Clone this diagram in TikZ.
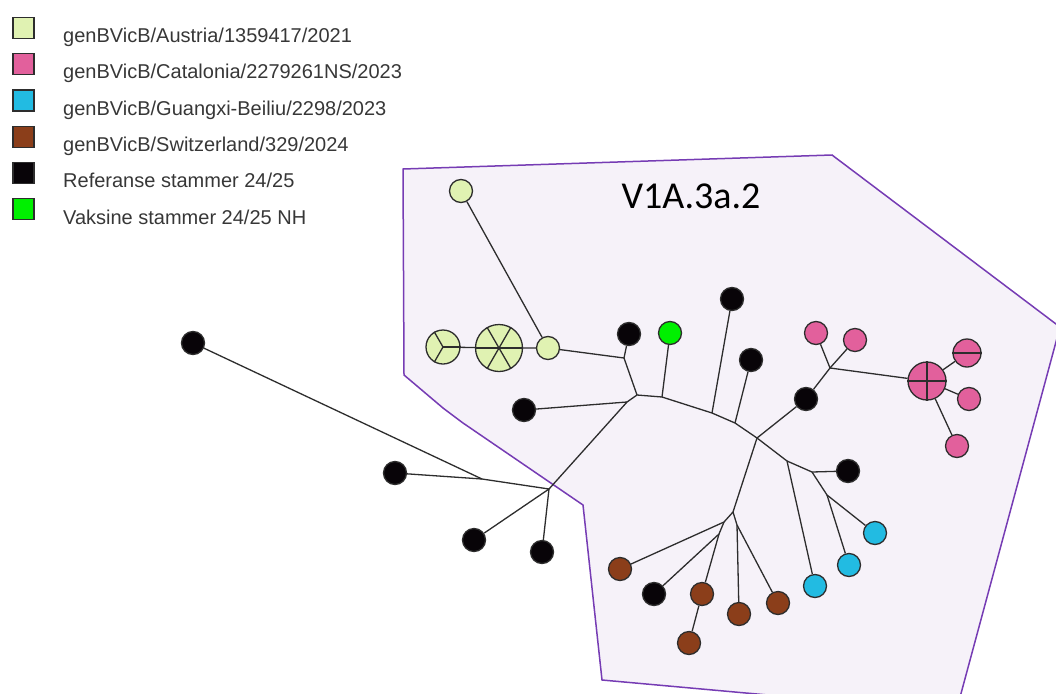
\documentclass[tikz,border=0pt]{standalone}
\usepackage{fontspec}
\setmainfont{Liberation Sans}
\newfontfamily\titlefont{Carlito}
\pgfdeclarelayer{bg}
\pgfdeclarelayer{edges}
\pgfsetlayers{bg,edges,main}
\definecolor{cAus}{RGB}{224,242,178}
\definecolor{cCat}{RGB}{226,96,156}
\definecolor{cGua}{RGB}{34,187,226}
\definecolor{cSwi}{RGB}{139,62,26}
\definecolor{cRef}{RGB}{8,4,8}
\definecolor{cVak}{RGB}{0,240,0}
\definecolor{cLine}{RGB}{45,45,45}
\definecolor{cPolyFill}{RGB}{246,242,249}
\definecolor{cPolyLine}{RGB}{118,60,180}
\definecolor{cLegTxt}{RGB}{55,55,55}
\tikzset{
  hap/.style={circle,draw=cLine,line width=1.3pt,inner sep=0pt,minimum size=23pt},
  bk/.style={hap,fill=cRef},
  gr/.style={hap,fill=cVak},
  yl/.style={hap,fill=cAus},
  pk/.style={hap,fill=cCat},
  bl/.style={hap,fill=cGua},
  br/.style={hap,fill=cSwi},
  link/.style={draw=cLine,line width=1.3pt},
  seg/.style={draw=cLine,line width=1.3pt},
  legbox/.style={draw=cLine,line width=1.3pt,minimum size=21pt,inner sep=0pt},
  legtxt/.style={anchor=base west,inner sep=0pt,text=cLegTxt,font=\fontsize{20}{24}\selectfont}
}
\begin{document}
\begin{tikzpicture}[x=1pt,y=-1pt]
\useasboundingbox (0,0) rectangle (1056,693);
\begin{pgfonlayer}{bg}
\clip (0,0) rectangle (1056,693);
\draw[fill=cPolyFill,draw=cPolyLine,line width=1.5pt]
  (403,169) -- (832,155) -- (1060,327) -- (956,712) -- (602,680) -- (583,505)
  -- (463,423) -- (443,408) -- (404,375) -- cycle;
\end{pgfonlayer}

% legend
\foreach \c/\t [count=\i] in {cAus/genBVicB\slash Austria\slash 1359417\slash 2021,
  cCat/genBVicB\slash Catalonia\slash 2279261NS\slash 2023,
  cGua/genBVicB\slash Guangxi-Beiliu\slash 2298\slash 2023,
  cSwi/genBVicB\slash Switzerland\slash 329\slash 2024,
  cRef/Referanse stammer 24\slash 25,
  cVak/Vaksine stammer 24\slash 25 NH}{
  \node[legbox,fill=\c] (lb\i) at (23.5,{27.8+36.3*(\i-1)}) {};
  \node[legtxt] (lt\i) at (63,{42.5+36.3*(\i-1)}) {\t};
}

\node[anchor=base,inner sep=0pt,font=\titlefont\fontsize{38}{40}\selectfont] (title) at (691,208) {V1A.3a.2};

% haplotype nodes
\node[bk] (b1) at (193,343) {};
\node[bk] (b2) at (395,473) {};
\node[bk] (b3) at (474,540) {};
\node[bk] (b4) at (542,552) {};
\node[bk] (b5) at (524,410) {};
\node[bk] (b6) at (629,334) {};
\node[bk] (b7) at (732,299) {};
\node[bk] (b8) at (751,360) {};
\node[bk] (b9) at (806,399) {};
\node[bk] (b10) at (848,471) {};
\node[bk] (b11) at (654,594) {};
\node[gr] (g1) at (670,333) {};
\node[yl] (y1) at (461,191) {};
\node[yl,minimum size=34pt] (y2) at (443,347) {};
\node[yl,minimum size=47pt] (y3) at (499,348) {};
\node[yl] (y4) at (548,348) {};
\node[pk] (p1) at (816,333) {};
\node[pk] (p2) at (855,340) {};
\node[pk,minimum size=38pt] (p3) at (927,381) {};
\node[pk,minimum size=28pt] (p4) at (967,353) {};
\node[pk] (p5) at (969,399) {};
\node[pk] (p6) at (957,446) {};
\node[bl] (c1) at (875,533) {};
\node[bl] (c2) at (849,565) {};
\node[bl] (c3) at (815,586) {};
\node[br] (r1) at (620,569) {};
\node[br] (r2) at (702,594) {};
\node[br] (r3) at (689,643) {};
\node[br] (r4) at (739,614) {};
\node[br] (r5) at (778,603) {};

% pie segments
\foreach \a in {0,120,240} \draw[seg] (y2.center) -- (y2.\a);
\foreach \a in {0,60,...,300} \draw[seg] (y3.center) -- (y3.\a);
\foreach \a in {0,90,180,270} \draw[seg] (p3.center) -- (p3.\a);
\foreach \a in {0,180} \draw[seg] (p4.center) -- (p4.\a);

% junctions
\coordinate (jL1) at (482,479);
\coordinate (jL0) at (549,489);
\coordinate (jA) at (627,402);
\coordinate (jB) at (637,395);
\coordinate (jC) at (662,397);
\coordinate (jD) at (624,358);
\coordinate (jE) at (712,413);
\coordinate (jF) at (735,423);
\coordinate (jG) at (757,438);
\coordinate (jH) at (830,368);
\coordinate (jI) at (787,461);
\coordinate (jJ) at (812,472);
\coordinate (jK) at (827,495);
\coordinate (jM) at (733,512);
\coordinate (jN) at (724,522);
\coordinate (jO) at (719,534);
\coordinate (jP) at (737,525);

\begin{pgfonlayer}{edges}
\draw[link] (b1) -- (jL1);
\draw[link] (b2) -- (jL1) -- (jL0);
\draw[link] (b3) -- (jL0);
\draw[link] (b4) -- (jL0);
\draw[link] (jL0) -- (jA) -- (jB) -- (jC) -- (jE) -- (jF) -- (jG);
\draw[link] (b5) -- (jA);
\draw[link] (jB) -- (jD) -- (b6);
\draw[link] (jD) -- (y4);
\draw[link] (y4) -- (y1);
\draw[link] (y4.center) -- (y3.center) -- (y2.center);
\draw[link] (jC) -- (g1);
\draw[link] (jE) -- (b7);
\draw[link] (jF) -- (b8);
\draw[link] (jG) -- (b9) -- (jH);
\draw[link] (jH) -- (p1);
\draw[link] (jH) -- (p2);
\draw[link] (jH) -- (p3);
\draw[link] (p3) -- (p4);
\draw[link] (p3) -- (p5);
\draw[link] (p3) -- (p6);
\draw[link] (jG) -- (jM) -- (jN) -- (r1);
\draw[link] (jN) -- (jO) -- (b11);
\draw[link] (jO) -- (r2) -- (r3);
\draw[link] (jM) -- (jP) -- (r4);
\draw[link] (jP) -- (r5);
\draw[link] (jG) -- (jI) -- (c3);
\draw[link] (jI) -- (jJ) -- (b10);
\draw[link] (jJ) -- (jK) -- (c1);
\draw[link] (jK) -- (c2);
\end{pgfonlayer}
\end{tikzpicture}
\end{document}
